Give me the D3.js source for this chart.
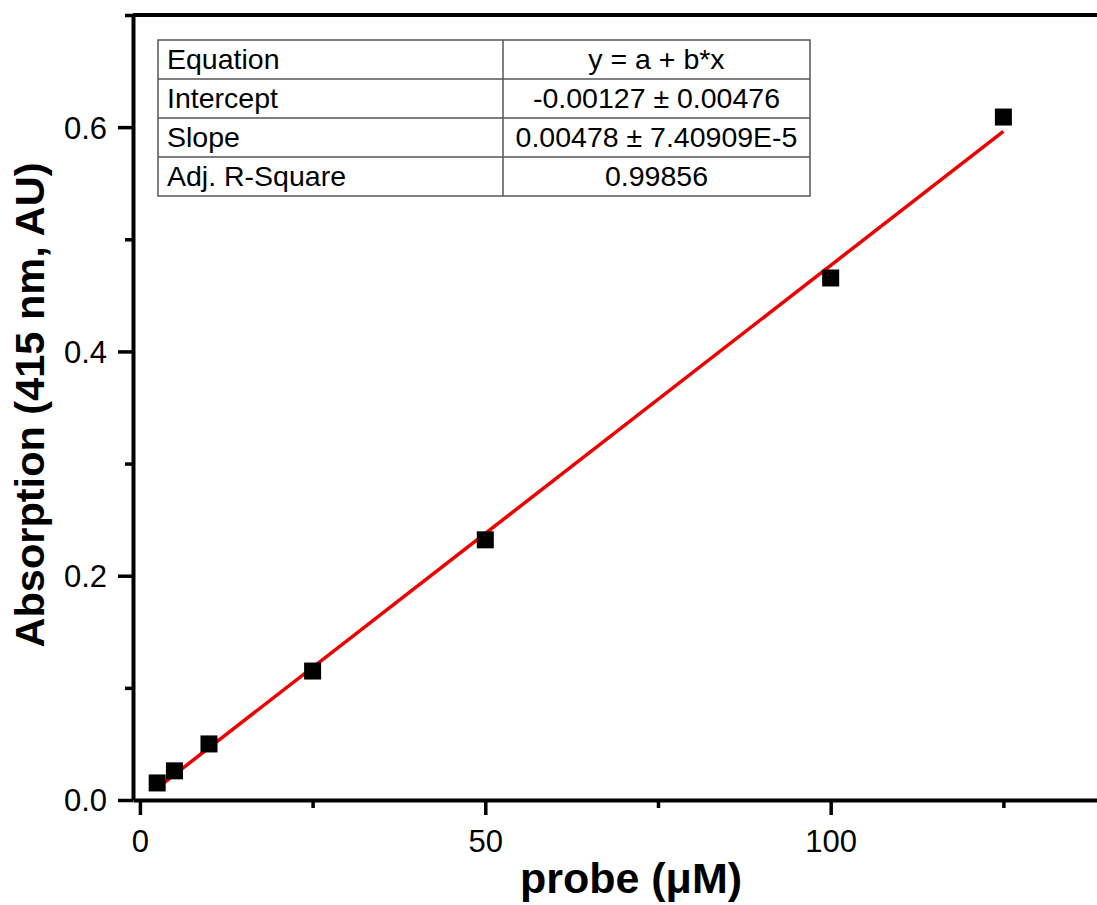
<!DOCTYPE html>
<html>
<head>
<meta charset="utf-8">
<script src="https://cdn.jsdelivr.net/npm/d3@7"></script>
<style>
  html, body { margin: 0; padding: 0; background: #fff; }
  svg { display: block; }
  text { font-family: "Liberation Sans", Arial, sans-serif; fill: #000; }
</style>
</head>
<body>
<svg id="chart" width="1097" height="905"></svg>
<script>
// ---- data ----
const concentration = [2.5, 5, 10, 25, 50, 100, 125];          // probe (µM)
const absorption    = [0.0152, 0.026, 0.050, 0.115, 0.232, 0.4655, 0.609];
const fitIntercept = -0.00127;
const fitSlope = 0.00478;
const xMajorTicks = [0, 50, 100];
const xMinorTicks = [25, 75, 125];
const yMajorTicks = [0.0, 0.2, 0.4, 0.6];
const yMinorTicks = [0.1, 0.3, 0.5, 0.7];
const tableLabels = ["Equation", "Intercept", "Slope", "Adj. R-Square"];
const tableValues = ["y = a + b*x", "-0.00127 \u00B1 0.00476", "0.00478 \u00B1 7.40909E-5", "0.99856"];
const xTitle = "probe (\u03BCM)";
const yTitle = "Absorption (415 nm, AU)";

// ---- layout ----
const svg = d3.select("#chart");
const x = d3.scaleLinear().domain([-1, 140]).range([133, 1107]);
const y = d3.scaleLinear().domain([0, 0.7]).range([800, 15]);
const axisW = 4;

// top frame line
svg.append("line")
  .attr("x1", x.range()[0]).attr("x2", x.range()[1])
  .attr("y1", y(0.7)).attr("y2", y(0.7))
  .attr("stroke", "#000").attr("stroke-width", axisW);
// right frame line (off-canvas)
svg.append("line")
  .attr("x1", x.range()[1]).attr("x2", x.range()[1])
  .attr("y1", y(0.7)).attr("y2", y(0))
  .attr("stroke", "#000").attr("stroke-width", axisW);

// x axis
const gx = svg.append("g").attr("transform", `translate(0,${y(0)})`);
gx.call(d3.axisBottom(x).tickValues(xMajorTicks).tickSize(15).tickFormat(d3.format("d")).tickSizeOuter(0));
gx.append("g").call(d3.axisBottom(x).tickValues(xMinorTicks).tickSize(8).tickFormat("").tickSizeOuter(0))
  .select(".domain").remove();
gx.selectAll(".domain").attr("stroke-width", axisW);
gx.selectAll(".tick line").attr("stroke-width", 3.5);
gx.selectAll(".tick text").attr("font-size", 31).attr("font-family", "Liberation Sans, Arial, sans-serif")
  .attr("dy", null).attr("y", 52).attr("fill", "#000");

// y axis
const gy = svg.append("g").attr("transform", `translate(${x(-1)},0)`);
gy.call(d3.axisLeft(y).tickValues(yMajorTicks).tickSize(15).tickFormat(d3.format(".1f")).tickSizeOuter(0));
gy.append("g").call(d3.axisLeft(y).tickValues(yMinorTicks).tickSize(8).tickFormat("").tickSizeOuter(0))
  .select(".domain").remove();
gy.selectAll(".domain").attr("stroke-width", axisW);
gy.selectAll(".tick line").attr("stroke-width", 3.5);
gy.selectAll(".tick text").attr("font-size", 31).attr("font-family", "Liberation Sans, Arial, sans-serif")
  .attr("x", -26).attr("dy", "0.35em").attr("fill", "#000");

// axis titles
svg.append("text")
  .attr("x", 631).attr("y", 893)
  .attr("text-anchor", "middle")
  .attr("font-size", 43).attr("font-weight", "bold")
  .text(xTitle);
svg.append("text")
  .attr("transform", "translate(44,405) rotate(-90)")
  .attr("text-anchor", "middle")
  .attr("font-size", 41.5).attr("font-weight", "bold")
  .text(yTitle);

// fit line
const xFit = d3.extent(concentration);
svg.append("line")
  .attr("x1", x(xFit[0])).attr("y1", y(fitIntercept + fitSlope * xFit[0]))
  .attr("x2", x(xFit[1])).attr("y2", y(fitIntercept + fitSlope * xFit[1]))
  .attr("stroke", "#ee0000").attr("stroke-width", 3.5);

// data points (squares)
const ms = 17;
svg.append("g").selectAll("rect")
  .data(concentration.map((c, i) => [c, absorption[i]]))
  .join("rect")
  .attr("x", d => x(d[0]) - ms / 2)
  .attr("y", d => y(d[1]) - ms / 2)
  .attr("width", ms).attr("height", ms)
  .attr("fill", "#000");

// fit table
const tLeft = 158, tRight = 810, tDiv = 503, tTop = 40, rowH = 39;
const tbl = svg.append("g");
tbl.append("rect")
  .attr("x", tLeft).attr("y", tTop)
  .attr("width", tRight - tLeft).attr("height", rowH * tableLabels.length)
  .attr("fill", "#fff").attr("stroke", "#555").attr("stroke-width", 1.5);
tbl.selectAll("line.row")
  .data(d3.range(1, tableLabels.length))
  .join("line")
  .attr("x1", tLeft).attr("x2", tRight)
  .attr("y1", i => tTop + i * rowH).attr("y2", i => tTop + i * rowH)
  .attr("stroke", "#555").attr("stroke-width", 1.5);
tbl.append("line")
  .attr("x1", tDiv).attr("x2", tDiv)
  .attr("y1", tTop).attr("y2", tTop + rowH * tableLabels.length)
  .attr("stroke", "#555").attr("stroke-width", 1.5);
tbl.selectAll("text.lab")
  .data(tableLabels)
  .join("text")
  .attr("x", tLeft + 9)
  .attr("y", (d, i) => tTop + i * rowH + 29)
  .attr("font-size", 28.5)
  .text(d => d);
tbl.selectAll("text.val")
  .data(tableValues)
  .join("text")
  .attr("x", (tDiv + tRight) / 2)
  .attr("y", (d, i) => tTop + i * rowH + 29)
  .attr("text-anchor", "middle")
  .attr("font-size", 28.5)
  .text(d => d);
</script>
</body>
</html>
